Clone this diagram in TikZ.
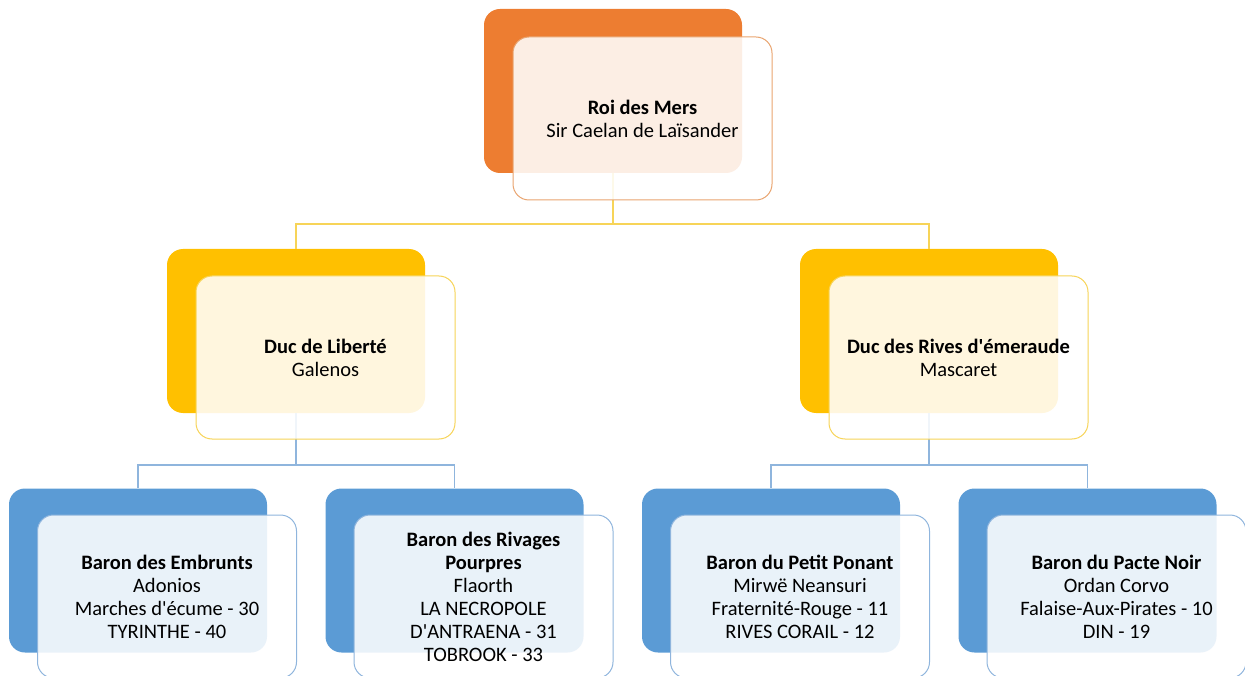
\documentclass[tikz,border=0pt]{standalone}
\usepackage{fontspec}
\newfontfamily\calib{Carlito}
\definecolor{orangeB}{HTML}{ED7D31}
\definecolor{goldB}{HTML}{FFC000}
\definecolor{blueB}{HTML}{5B9BD5}
\definecolor{orangeL}{HTML}{E9A46F}
\definecolor{goldL}{HTML}{F7D458}
\definecolor{blueL}{HTML}{8FB5DD}
\begin{document}
\begin{tikzpicture}[x=1pt,y=-1pt,
  backbox/.style={fill=#1, draw=none, rounded corners=16pt, inner sep=0pt, minimum width=258pt, minimum height=164pt},
  frontbox/.style={draw=#1, fill=white, fill opacity=0.87, text opacity=1, rounded corners=16pt, line width=1pt, inner sep=0pt, minimum width=259pt, minimum height=163pt, align=center, font=\calib\fontsize{20.5}{23}\selectfont},
  gline/.style={draw=goldL, line width=1.3pt},
  bline/.style={draw=blueL, line width=1.3pt}]
\useasboundingbox (0,0) rectangle (1245,676);
% junctions
\coordinate (j1) at (613,224);
\coordinate (j2) at (296,465);
\coordinate (j3) at (929,465);
% back boxes
\node[backbox=orangeB] (tb) at (613,91) {};
\node[backbox=goldB] (dlb) at (296,331) {};
\node[backbox=goldB] (drb) at (929,331) {};
\node[backbox=blueB] (b1b) at (138,570.5) {};
\node[backbox=blueB] (b2b) at (454.5,570.5) {};
\node[backbox=blueB] (b3b) at (771,570.5) {};
\node[backbox=blueB] (b4b) at (1087.5,570.5) {};
% connectors
\draw[gline] (tb.south) -- (j1);
\draw[gline] (j1) -| (dlb.north);
\draw[gline] (j1) -| (drb.north);
\draw[bline] (dlb.south) -- (j2);
\draw[bline] (j2) -| (b1b.north);
\draw[bline] (j2) -| (b2b.north);
\draw[bline] (drb.south) -- (j3);
\draw[bline] (j3) -| (b3b.north);
\draw[bline] (j3) -| (b4b.north);
% front boxes
\node[frontbox=orangeL] (tf) at (642.5,118.5) {\textbf{Roi des Mers}\\Sir Caelan de Laïsander};
\node[frontbox=goldL] (dlf) at (325.5,357.5) {\textbf{Duc de Liberté}\\Galenos};
\node[frontbox=goldL] (drf) at (958.5,357.5) {\textbf{Duc des Rives d'émeraude}\\Mascaret};
\node[frontbox=blueL] (b1f) at (167,596.5) {\textbf{Baron des Embrunts}\\Adonios\\Marches d'écume - 30\\TYRINTHE - 40};
\node[frontbox=blueL] (b2f) at (483.5,596.5) {\textbf{Baron des Rivages}\\\textbf{Pourpres}\\Flaorth\\LA NECROPOLE\\D'ANTRAENA - 31\\TOBROOK - 33};
\node[frontbox=blueL] (b3f) at (800,596.5) {\textbf{Baron du Petit Ponant}\\Mirwë Neansuri\\Fraternité-Rouge - 11\\RIVES CORAIL - 12};
\node[frontbox=blueL] (b4f) at (1116.5,596.5) {\textbf{Baron du Pacte Noir}\\Ordan Corvo\\Falaise-Aux-Pirates - 10\\DIN - 19};
\end{tikzpicture}
\end{document}
